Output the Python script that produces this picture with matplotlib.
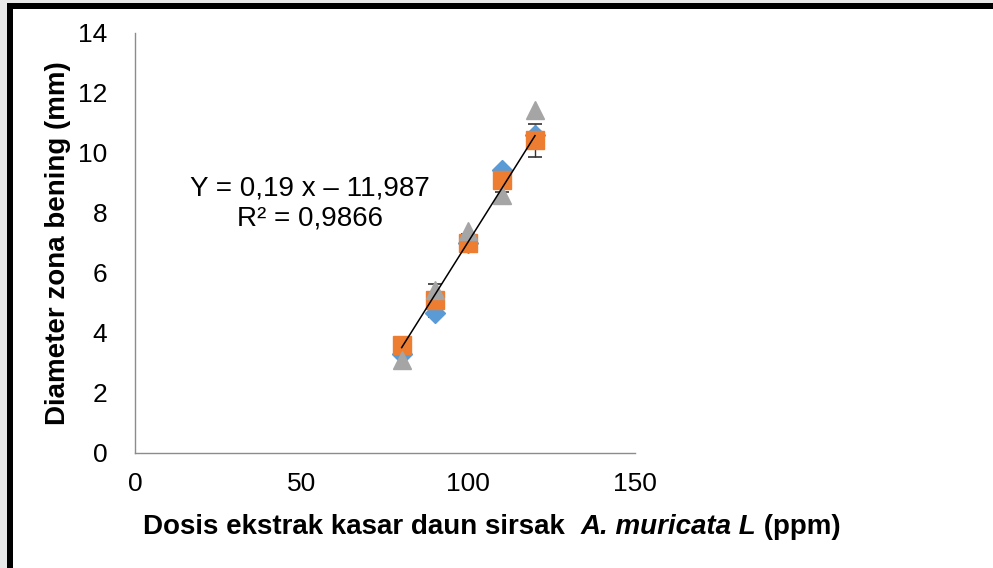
import numpy as np
import matplotlib.pyplot as plt
from matplotlib.patches import Rectangle

plt.rcParams['font.family'] = ['Liberation Sans', 'DejaVu Sans']

# dosis (ppm)
dosis = [80, 90, 100, 110, 120]
# three replicate series of clear zone diameter (mm)
ulangan1 = [3.3, 4.67, 7.0, 9.43, 10.6]
ulangan2 = [3.6, 5.1, 7.0, 9.1, 10.43]
ulangan3 = [3.1, 5.43, 7.4, 8.6, 11.43]
galat = [0.25, 0.55, 0.3, 0.4, 0.55]
xticks = [0, 50, 100, 150]
yticks = [0, 2, 4, 6, 8, 10, 12, 14]
persamaan = "Y = 0,19 x \u2013 11,987\nR\u00b2 = 0,9866"

fig = plt.figure(figsize=(9.93, 5.68), dpi=100)
fig.patch.set_facecolor('white')

# frame around the picture (black band top and left, light grey outside)
fig.add_artist(Rectangle((0, 1 - 3/568), 1, 3/568, transform=fig.transFigure,
                         facecolor='#e8e8e8', edgecolor='none'))
fig.add_artist(Rectangle((0, 0), 7/993, 1, transform=fig.transFigure,
                         facecolor='#e8e8e8', edgecolor='none'))
fig.add_artist(Rectangle((7/993, 1 - 9/568), 1, 6/568, transform=fig.transFigure,
                         facecolor='black', edgecolor='none'))
fig.add_artist(Rectangle((7/993, 0), 6/993, 1 - 3/568, transform=fig.transFigure,
                         facecolor='black', edgecolor='none'))

ax = fig.add_axes([135/993, 1 - 453/568, 500/993, 420/568])

ax.errorbar(dosis, ulangan2, yerr=galat, fmt='none', ecolor='#333333',
            elinewidth=1, capsize=5, capthick=1.2, zorder=1)
ax.plot(dosis, ulangan1, 'D', color='#5B9BD5', markersize=10, zorder=2)
ax.plot(dosis, ulangan2, 's', color='#ED7D31', markersize=13.5, zorder=3)
ax.plot(dosis, ulangan3, '^', color='#A5A5A5', markersize=13.5, zorder=4)

# linear trend line of the mean series
k, c = np.polyfit(dosis, ulangan2, 1)
xs = np.array([dosis[0], dosis[-1]])
ax.plot(xs, k * xs + c, color='black', linewidth=1.1, zorder=5)

ax.text(0.35, 0.595, persamaan, transform=ax.transAxes, ha='center', va='center',
        fontsize=20, linespacing=1.2)

ax.set_xlim(0, 150)
ax.set_ylim(0, 14)
ax.set_xticks(xticks)
ax.set_yticks(yticks)
ax.tick_params(length=0, labelsize=19)
ax.tick_params(axis='x', pad=14)
ax.tick_params(axis='y', pad=20)
for s in ['top', 'right']:
    ax.spines[s].set_visible(False)
for s in ['left', 'bottom']:
    ax.spines[s].set_color('#8c8c8c')
    ax.spines[s].set_linewidth(1)

ax.set_ylabel('Diameter zona bening (mm)', fontsize=20, fontweight='bold', labelpad=5)

# x label with italic species name
t1 = fig.text(143/993, 1 - 540/568, 'Dosis ekstrak kasar daun sirsak  ',
              fontsize=20, fontweight='bold', va='bottom', ha='left')
t2 = ax.annotate('A. muricata L', xy=(1, 0), xycoords=t1, va='bottom', ha='left',
                 fontsize=20, fontweight='bold', style='italic', annotation_clip=False)
t3 = ax.annotate(' (ppm)', xy=(1, 0), xycoords=t2, va='bottom', ha='left',
                 fontsize=20, fontweight='bold', annotation_clip=False)

fig.savefig('out.png', dpi=100)
